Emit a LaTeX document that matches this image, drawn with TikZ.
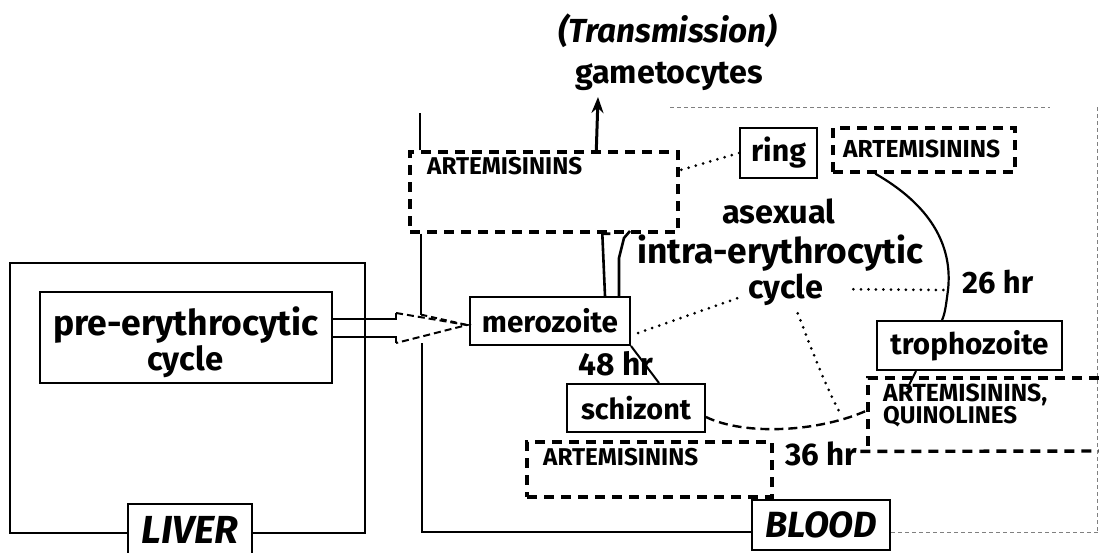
\documentclass[tikz,border=0pt]{standalone}
\usepackage{fontspec}
\setmainfont{Fira Sans}
\usepackage{graphicx}
\usetikzlibrary{calc,arrows.meta}
\newcommand{\fw}[2]{\resizebox{#1pt}{!}{#2}}
\begin{document}
\begin{tikzpicture}[x=1pt,y=-1pt,
  every node/.style={inner sep=0pt},
  cellbox/.style={draw, line width=2pt, fill=white},
  dbox/.style={draw, line width=3.4pt, dash pattern=on 10pt off 7pt},
  thinln/.style={line width=1.3pt},
  solidln/.style={line width=2pt},
  dotln/.style={line width=3pt, line cap=round, dash pattern=on 0pt off 7.5pt},
  faint/.style={line width=1pt, gray, dash pattern=on 4pt off 3pt},
  lbl/.style={anchor=base west, font=\bfseries},
]
\useasboundingbox (0,0) rectangle (1099,552);
\fill[white] (0,0) rectangle (1099,552);

% ---------- LIVER side ----------
\node[draw, thinln, minimum width=355pt, minimum height=270pt] (liverbox) at (187.5,398) {};
\node[cellbox, line width=2.2pt, minimum width=292pt, minimum height=91pt] (pre) at (186,337.5) {};
\node[lbl] (pre1) at (53,335) {\fw{265}{pre-erythrocytic}};
\node[lbl] (pre2) at (147,370) {\fw{76}{cycle}};
\node[cellbox, minimum width=124pt, minimum height=52pt, font=\bfseries] (liver) at (190,530)
      {\fw{97}{\itshape LIVER}};

% ---------- artemisinin boxes ----------
\node[dbox, minimum width=268pt, minimum height=80pt] (artL) at (544,192) {};
\node[lbl] (artLt) at (427,174) {\fw{155}{ARTEMISININS}};
\node[dbox, minimum width=182pt, minimum height=44pt] (artR) at (924,150) {};
\node[lbl] (artRt) at (843,157) {\fw{157}{ARTEMISININS}};
\node[dbox, minimum width=245pt, minimum height=55pt] (artB) at (649.5,469.5) {};
\node[lbl] (artBt) at (543,465) {\fw{155}{ARTEMISININS}};
\node[lbl] (aq1) at (883,401) {\fw{164}{ARTEMISININS,}};
\node[lbl] (aq2) at (883,423) {\fw{134}{QUINOLINES}};

% ---------- stage boxes ----------
\node[cellbox, minimum width=160pt, minimum height=48pt, font=\bfseries] (mero) at (550,321) {\fw{136}{merozoite}};
\node[cellbox, minimum width=77pt, minimum height=50pt, font=\bfseries] (ring) at (778.5,153) {\fw{55}{ring}};
\node[cellbox, minimum width=185pt, minimum height=49pt, font=\bfseries] (troph) at (969.5,345.5) {\fw{158}{trophozoite}};
\node[cellbox, minimum width=138pt, minimum height=48pt, font=\bfseries] (schiz) at (636,408) {\fw{110}{schizont}};
\node[cellbox, minimum width=138pt, minimum height=50pt, font=\bfseries] (blood) at (821,525) {\fw{112}{\itshape BLOOD}};

% ---------- free texts ----------
\node[lbl] (trans) at (558,42) {\fw{219}{\itshape (Transmission)}};
\node[lbl] (gam) at (575,83) {\fw{188}{gametocytes}};
\node[lbl] (asex) at (722,223) {\fw{113}{asexual}};
\node[lbl] (intra) at (637,263) {\fw{286}{intra-erythrocytic}};
\node[lbl] (cyc) at (748,298) {\fw{75}{cycle}};
\node[lbl] (h26) at (962,293) {\fw{71}{26 hr}};
\node[lbl] (h48) at (578,375) {\fw{75}{48 hr}};
\node[lbl] (h36) at (785,465) {\fw{72}{36 hr}};

% ---------- region outlines ----------
\draw[solidln] ($(artL.north west)+(12,0)$) -- ++(0,-37);
\draw[solidln] (422,343) -- (422,532) -- ($(blood.west)+(0,7)$);
\draw[faint] (670,107) -- (1050,107);
\draw[faint] (1097,107) -- (1097,532);
\draw[faint] ($(blood.east)+(0,7)$) -- (1099,532);

% ---------- block arrow liver -> merozoite ----------
\draw[solidln] ($(pre.east)+(0,-18.5)$) -- ++(63,0) -- ++(0,-6);
\draw[solidln] ($(pre.east)+(0,-0.5)$) -- ++(63,0) -- ++(0,6);
\draw[solidln, dash pattern=on 7pt off 4pt]
   ($(pre.east)+(63,-24.5)$) -- ($(mero.west)+(-2,4)$) -- ($(pre.east)+(63,5.5)$);

% ---------- merozoite <-> upper artemisinin box ----------
\draw[solidln] ($(artL.south west)+(13,0)$) -- ++(0,81) coordinate (bk);
\draw[solidln, dash pattern=on 6pt off 4pt] (bk) -- ($(mero.west)+(-2,4)$);
\draw[line width=2.6pt] ($(mero.north east)+(-26,0)$) -- ($(artL.south west)+(194,0)$) -- ++(8,0);
\draw[line width=2.6pt] ($(mero.north east)+(-12,0)$) -- ++(0,-38) -- ++(5,-20) -- ++(6,-7);

% ---------- to gametocytes ----------
\coordinate (gtip) at (598,97);
\draw[line width=3pt, -{Stealth[length=16pt,width=12pt]}] ($(artL.north west)+(188,0)$) -- (gtip);

% ---------- cycle connectors ----------
\draw[dotln] (ring.west) -- ($(artL.north east)+(0,20)$);
\draw[line width=2.2pt] ($(artR.south west)+(44,0)$) .. controls (930,205) and (953,245) .. (948,290)
   .. controls (946,305) and (945,314) .. ($(troph.north west)+(66,0)$);
\coordinate (arcR) at (947,290);
\draw[dotln] ($(mero.east)+(7,12)$) -- ($(cyc.west)+(-8,8)$);
\draw[dotln] ($(cyc.east)+(30,0)$) -- (arcR);
\coordinate (botm) at (839,411);
\draw[dotln] ($(cyc.south)+(12,8)$) .. controls (812,350) and (825,385) .. (botm);
\draw[solidln] (mero.south east) -- ($(schiz.north east)+(-47,0)$);
\coordinate (aqL) at (868,410);
\draw[line width=2.4pt, dash pattern=on 9pt off 5pt] ($(schiz.east)+(0,9)$) .. controls (745,436) and (820,432) .. (aqL);
\draw[solidln] ($(troph.south west)+(40,0)$) -- ++(-9,18);

% ---------- artemisinin/quinoline box (open to the right) ----------
\draw[dbox] (1099,378) -- (868,378) -- (868,451);
\draw[dbox] ($(h36.east)+(3,-2)$) -- (1099,451);
\end{tikzpicture}
\end{document}
